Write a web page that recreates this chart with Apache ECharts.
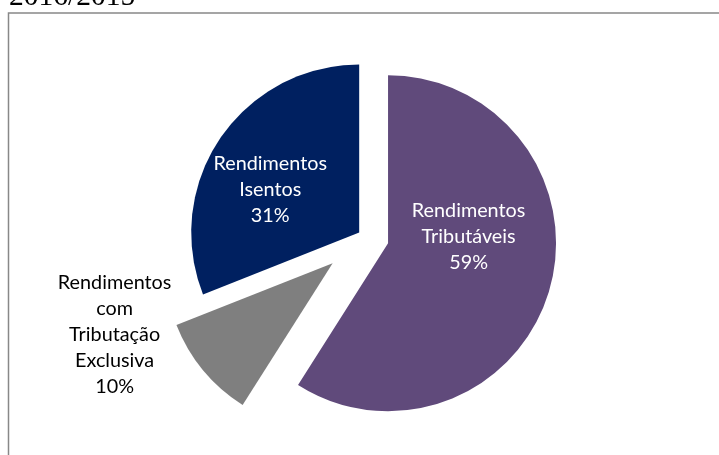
<!DOCTYPE html>
<html>
<head>
<meta charset="utf-8">
<script src="https://cdn.jsdelivr.net/npm/echarts@6/dist/echarts.min.js"></script>
<style>
  html, body { margin: 0; padding: 0; background: #fff; }
  #chart { width: 719px; height: 455px; }
</style>
</head>
<body>
<div id="chart"></div>
<script>
const title = '2016/2015'
const categories = ['Rendimentos Tributáveis', 'Rendimentos com Tributação Exclusiva', 'Rendimentos Isentos']
const shares = [59, 10, 31]

const colors = ['#604a7b', '#7f7f7f', '#002060']
const labelColors = ['#ffffff', '#000000', '#ffffff']
// how far each slice is pulled out of the pie (px)
const explode = [24, 42, 7]
// nudges for the labels, excel puts them a bit differently
const labelNudge = [[-3, -31], [-151, 16], [-17, 6]]

const chart = echarts.init(document.getElementById('chart'))

// one series per slice so every slice can have its own explode distance
function sliceSeries(index) {
  return {
    type: 'pie',
    center: [365, 236.5],
    radius: 168,
    startAngle: 90,
    clockwise: true,
    selectedMode: 'multiple',
    selectedOffset: explode[index],
    silent: true,
    emphasis: { disabled: true },
    labelLine: { show: false },
    labelLayout: params => {
      if (params.dataIndex !== index) return {}
      return { dx: labelNudge[index][0], dy: labelNudge[index][1] }
    },
    data: categories.map((name, i) => ({
      name: name,
      value: shares[i],
      selected: i === index,
      itemStyle: { color: i === index ? colors[i] : 'transparent' },
      label:
        i === index
          ? {
              show: true,
              position: 'inside',
              color: labelColors[i],
              fontFamily: 'Lato',
              fontSize: 19.8,
              lineHeight: 26,
              align: 'center',
              formatter: p => p.name.split(' ').join('\n') + '\n' + Math.round(p.percent) + '%',
            }
          : { show: false },
    })),
  }
}

const option = {
  backgroundColor: '#ffffff',
  animation: false,
  graphic: [
    {
      type: 'rect',
      shape: { x: 8.5, y: 13, width: 730, height: 460 },
      style: { fill: 'none', stroke: '#888888', lineWidth: 1.5 },
      silent: true,
    },
    {
      type: 'text',
      left: 9,
      top: -18,
      style: {
        text: title,
        fontFamily: 'Liberation Serif',
        fontSize: 29.5,
        fill: '#000000',
      },
      silent: true,
    },
  ],
  series: categories.map((c, i) => sliceSeries(i)),
}

chart.setOption(option)
</script>
</body>
</html>
